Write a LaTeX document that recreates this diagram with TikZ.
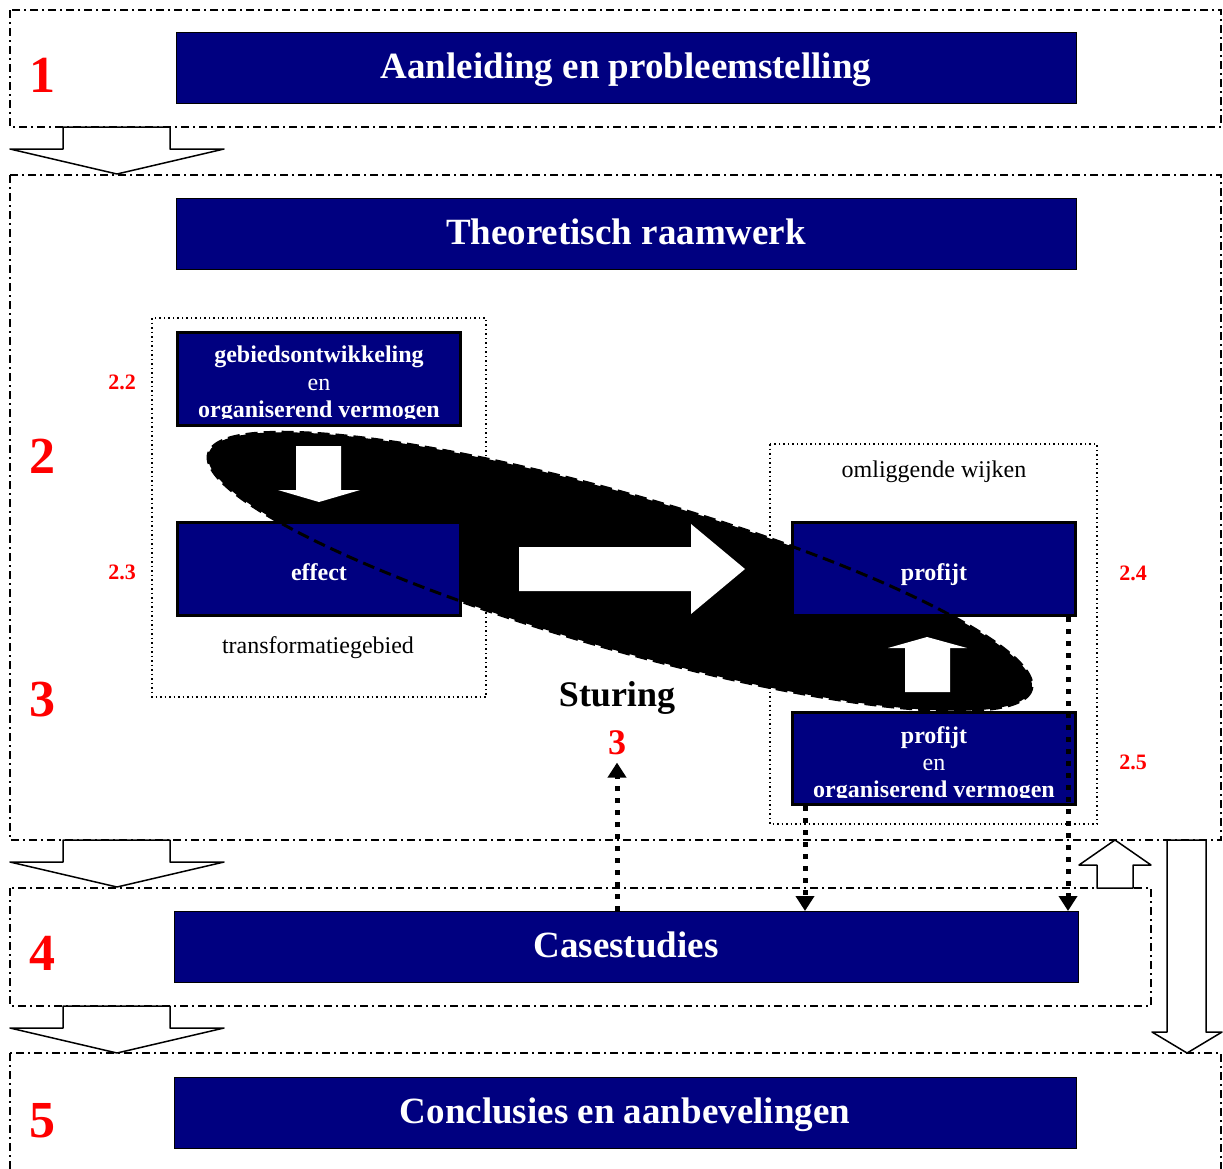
\documentclass[tikz,border=0pt]{standalone}
\usepackage{fontspec}
\setmainfont{Liberation Serif}
\usetikzlibrary{arrows.meta}

\definecolor{navy}{HTML}{000080}
\definecolor{chapred}{HTML}{FF0000}

\begin{document}
\begin{tikzpicture}[x=1pt,y=-1pt,
  chapter/.style={draw=black, line width=1.3pt, dash pattern=on 8pt off 4pt on 2pt off 4pt},
  zone/.style={draw=black, line width=1.5pt, dash pattern=on 1.5pt off 3pt},
  flow/.style={fill=white, draw=black, line width=1.5pt, line join=round},
  titlebox/.style={fill=navy, draw=black, line width=1pt, text=white,
    font=\fontsize{37}{44}\selectfont\bfseries, inner sep=0pt, minimum height=71pt,
    text height=30pt, text depth=10pt},
  themebox/.style={fill=navy, draw=black, line width=3pt, inner sep=0pt,
    minimum width=283pt, minimum height=93pt},
  boxtext/.style={text=white, font=\fontsize{24}{28}\selectfont\bfseries, inner sep=0pt, anchor=base},
  boxtextreg/.style={text=white, font=\fontsize{24}{28}\selectfont, inner sep=0pt, anchor=base},
  plaintext/.style={font=\fontsize{24}{28}\selectfont, inner sep=0pt, anchor=base},
  chapno/.style={text=chapred, font=\fontsize{52}{60}\selectfont\bfseries, inner sep=0pt, anchor=base},
  secno/.style={text=chapred, font=\fontsize{22}{26}\selectfont\bfseries, inner sep=0pt, anchor=base},
  link/.style={line width=5pt, dash pattern=on 5pt off 7pt,
    -{Triangle[length=15pt,width=18pt]}},
  lens/.style={line width=3pt, dash pattern=on 12pt off 6pt}
]
\useasboundingbox (0,0) rectangle (1223,1168);
\clip (0,0) rectangle (1223,1168);

% chapter frames
\draw[chapter] (10,10) rectangle (1221,127);
\draw[chapter] (10,175) rectangle (1221,840);
\draw[chapter] (10,888) rectangle (1151,1006);
\draw[chapter] (10,1053) rectangle (1221,1190);

% flow arrows between the chapters
\draw[flow] (63,127) -- (170,127) -- (170,149) -- (224,149) -- (117,174) -- (10,149) -- (63,149) -- cycle;
\draw[flow] (63,840) -- (170,840) -- (170,862) -- (224,862) -- (117,887) -- (10,862) -- (63,862) -- cycle;
\draw[flow] (63,1006) -- (170,1006) -- (170,1028) -- (224,1028) -- (117,1053) -- (10,1028) -- (63,1028) -- cycle;
\draw[flow] (1097,888) -- (1133,888) -- (1133,865) -- (1151,865) -- (1115,840) -- (1079,865) -- (1097,865) -- cycle;
\draw[flow] (1167,840) -- (1206,840) -- (1206,1032) -- (1222,1032) -- (1187,1053) -- (1152,1032) -- (1167,1032) -- cycle;

% chapter titles
\node[titlebox, minimum width=900pt] (aanleiding) at (626,68) {Aanleiding en probleemstelling};
\node[titlebox, minimum width=900pt] (theorie) at (626,234) {Theoretisch raamwerk};
\node[titlebox, minimum width=904pt] (cases) at (626,947) {Casestudies};
\node[titlebox, minimum width=902pt] (concl) at (625,1113) {Conclusies en aanbevelingen};

% chapter numbers
\node[chapno] (n1) at (42,92) {1};
\node[chapno] (n2) at (42,473) {2};
\node[chapno] (n3) at (42,716) {3};
\node[chapno] (n4) at (42,970) {4};
\node[chapno] (n5) at (42,1137) {5};

% areas
\draw[zone] (152,318) rectangle (486,697);
\draw[zone] (770,444) rectangle (1097,824);
\node[plaintext] (transf) at (318,653) {transformatiegebied};
\node[plaintext] (omlig) at (934,477) {omliggende wijken};

% the steering lens
\def\lenspath{plot[domain=0:360, samples=181, variable=\t]
  ({620+428*cos(\t)*cos(16)-77*sin(\t)*sin(16)},
   {571.5+428*cos(\t)*sin(16)+77*sin(\t)*cos(16)}) -- cycle}
\fill[black] \lenspath;

% theme boxes
\node[themebox] (gebied) at (319,379) {};
\node[themebox] (effect) at (319,569) {};
\node[themebox] (profijt) at (934,569) {};
\node[themebox, minimum height=92pt] (porg) at (934,758.5) {};

\begin{scope}
  \clip (179,334) rectangle (459,418);
  \node[boxtext] (g1) at (319,362.5) {gebiedsontwikkeling};
  \node[boxtextreg] (g2) at (319,390) {en};
  \node[boxtext] (g3) at (319,417.5) {organiserend vermogen};
\end{scope}
\node[boxtext] (eff) at (319,580.5) {effect};
\node[boxtext] (prof) at (934,580.5) {profijt};
\begin{scope}
  \clip (794,714) rectangle (1074,797);
  \node[boxtext] (p1) at (934,743) {profijt};
  \node[boxtextreg] (p2) at (934,770) {en};
  \node[boxtext] (p3) at (934,797.5) {organiserend vermogen};
\end{scope}

% lens outline over the boxes
\draw[lens] \lenspath;

% white arrows inside the lens
\fill[white] (296,446) -- (341,446) -- (341,490) -- (360,490) -- (319,502) -- (278,490) -- (296,490) -- cycle;
\fill[white] (519,547) -- (691,547) -- (691,524) -- (745,569) -- (691,614) -- (691,591) -- (519,591) -- cycle;
\fill[white] (905,692) -- (950,692) -- (950,648) -- (967,648) -- (927,637) -- (888,648) -- (905,648) -- cycle;

% section numbers
\node[secno] (s22) at (122,389) {2.2};
\node[secno] (s23) at (122,579) {2.3};
\node[secno] (s24) at (1133,580) {2.4};
\node[secno] (s25) at (1133,769) {2.5};

% steering
\node[font=\fontsize{36}{42}\selectfont\bfseries, inner sep=0pt, anchor=base] (sturing) at (617,706.5) {Sturing};
\node[text=chapred, font=\fontsize{36}{42}\selectfont\bfseries, inner sep=0pt, anchor=base] (st3) at (617,754) {3};

% feedback links
\draw[link] (cases.north -| st3) -- ([yshift=-8pt]st3.south);
\draw[link] ([xshift=14pt]porg.south west) -- ([xshift=14pt]porg.south west |- cases.north);
\draw[link] ([xshift=-9pt]profijt.south east) -- ([xshift=-9pt]profijt.south east |- cases.north);
\end{tikzpicture}
\end{document}
